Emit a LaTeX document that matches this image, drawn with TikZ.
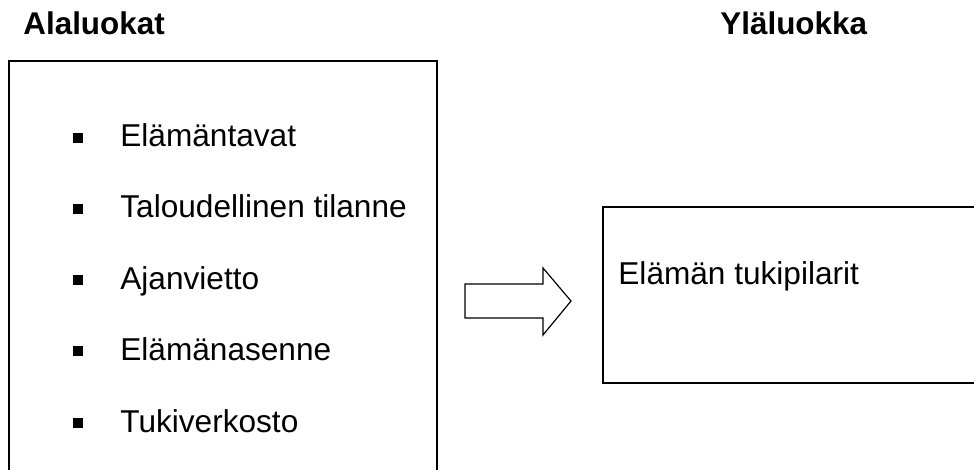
\documentclass[tikz,border=0pt]{standalone}
\usepackage{fontspec}
\setmainfont{Liberation Sans}
\usepackage{tikz}
\usetikzlibrary{positioning}
\tikzstyle{otsikko}=[anchor=base west, inner sep=0pt, font=\fontsize{15.7}{18}\selectfont\bfseries]
\tikzstyle{kohta}=[anchor=base west, inner sep=0pt, font=\fontsize{15.8}{18}\selectfont]
\tikzstyle{pallo}=[fill=black, inner sep=0pt, minimum size=5pt]
\tikzstyle{laatikko}=[draw=black, line width=1pt]

\begin{document}
\begin{tikzpicture}[x=0.5pt,y=-0.5pt]

\useasboundingbox (0,0) rectangle (974,470);
\clip (0,0) rectangle (974,470);

% otsikot
\node[otsikko] (ala) at (23,35) {Alaluokat};
\node[otsikko] (yla) at (720,35) {Yläluokka};

% alaluokat
\draw[laatikko] (9,61) rectangle (437,500);

\node[pallo] (p1) at (78,138) {};
\node[kohta] (k1) at (120,147) {Elämäntavat};
\node[pallo] (p2) at (78,209) {};
\node[kohta] (k2) at (120,218) {Taloudellinen tilanne};
\node[pallo] (p3) at (78,280) {};
\node[kohta] (k3) at (120,289) {Ajanvietto};
\node[pallo] (p4) at (78,351) {};
\node[kohta] (k4) at (120,360) {Elämänasenne};
\node[pallo] (p5) at (78,423) {};
\node[kohta] (k5) at (120,432) {Tukiverkosto};

% nuoli
\draw[line width=0.6pt] (465,284) -- (543,284) -- (543,268) -- (571,301)
  -- (543,335) -- (543,318) -- (465,318) -- cycle;

% yläluokka
\draw[laatikko] (603,207) rectangle (1000,383);
\node[kohta] (k6) at (618,285) {Elämän tukipilarit};

\end{tikzpicture}
\end{document}
